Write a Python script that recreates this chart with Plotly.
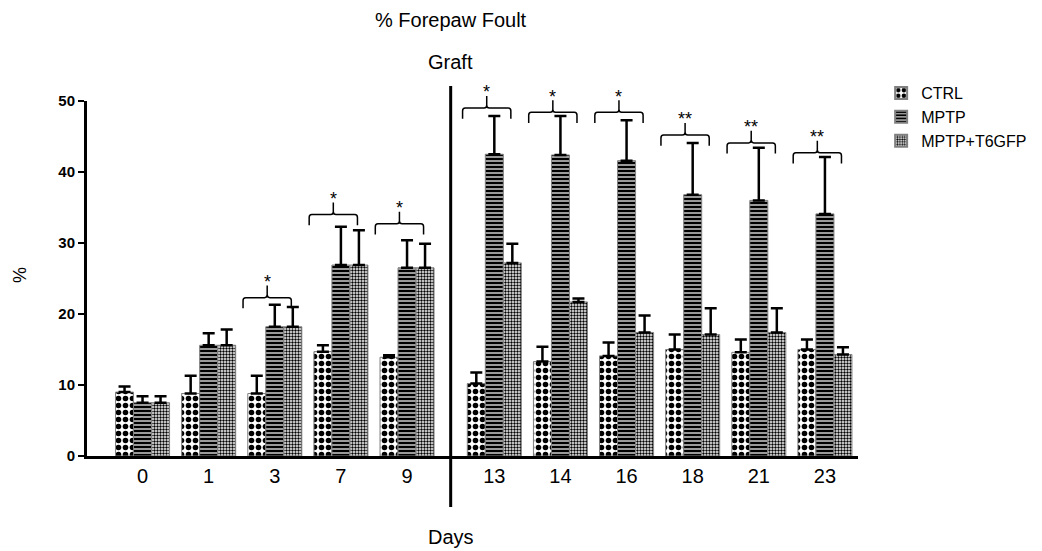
import plotly.graph_objects as go

days = ["0", "1", "3", "7", "9", "13", "14", "16", "18", "21", "23"]
ctrl = [9.0, 8.8, 8.8, 14.7, 13.9, 10.2, 13.3, 14.1, 15.0, 14.6, 15.0]
ctrl_err = [0.8, 2.5, 2.5, 0.9, 0.3, 1.55, 2.1, 1.9, 2.1, 1.8, 1.4]
mptp = [7.5, 15.6, 18.2, 26.9, 26.5, 42.5, 42.4, 41.6, 36.8, 36.0, 34.1]
mptp_err = [0.9, 1.7, 3.1, 5.4, 3.9, 5.4, 5.5, 5.7, 7.3, 7.4, 8.0]
t6 = [7.5, 15.6, 18.2, 26.9, 26.5, 27.2, 21.7, 17.4, 17.1, 17.4, 14.3]
t6_err = [0.9, 2.2, 2.8, 4.9, 3.4, 2.7, 0.5, 2.4, 3.7, 3.4, 1.0]
sig = ["", "", "*", "*", "*", "*", "*", "*", "**", "**", "**"]
bracket_level = [None, None, 22.3, 34.0, 32.7, 49.0, 48.4, 48.4, 45.2, 44.1, 42.7]

FONT = "Liberation Sans, Arial, sans-serif"
GAP_AFTER = 4          # graft happens after the 5th time point
GAP = 0.32
xpos = [i + (GAP if i > GAP_AFTER else 0) for i in range(len(days))]
graft_x = (xpos[GAP_AFTER] + xpos[GAP_AFTER + 1]) / 2

YMAX = 50
L, R, T, B = 87, 184, 101, 95
W, H = 1042, 551
pw, ph = W - L - R, H - T - B


def px_to_paper(px, py):
    return (px - L) / pw, (H - B - py) / ph


def bar(name, vals, errs, pattern):
    return go.Bar(
        name=name, x=xpos, y=vals,
        marker=dict(color="white", line=dict(color="#808080", width=1), pattern=pattern),
        error_y=dict(type="data", symmetric=False, array=errs, arrayminus=[0] * len(errs),
                     color="black", thickness=2.5, width=6),
    )


fig = go.Figure()
fig.add_trace(bar("CTRL", ctrl, ctrl_err,
                  dict(shape=".", fgcolor="black", bgcolor="white", size=7, solidity=0.5, fillmode="replace")))
fig.add_trace(bar("MPTP", mptp, mptp_err,
                  dict(shape="-", fgcolor="black", bgcolor="white", size=4, solidity=0.7, fillmode="replace")))
fig.add_trace(bar("MPTP+T6GFP", t6, t6_err,
                  dict(shape=".", fgcolor="black", bgcolor="white", size=3, solidity=0.5, fillmode="replace")))

shapes = []
annotations = []
# graft divider
shapes.append(dict(type="line", xref="x", yref="paper", x0=graft_x, x1=graft_x, y0=-0.144, y1=1.042,
                   line=dict(color="black", width=3)))

# significance brackets
for i, (lv, s) in enumerate(zip(bracket_level, sig)):
    if lv is None:
        continue
    c = xpos[i]
    xl, xr = c - 0.48, c + 0.25
    xm = (xl + xr) / 2
    yp = lv / YMAX
    drop = 1.5 / YMAX
    peak = 1.7 / YMAX
    r = 0.04
    rr = 0.4 / YMAX
    path = (f"M {xl},{yp - drop} L {xl},{yp - rr} Q {xl},{yp} {xl + r},{yp} "
            f"L {xm - r},{yp} Q {xm},{yp} {xm},{yp + rr} L {xm},{yp + peak} "
            f"M {xm},{yp + rr} Q {xm},{yp} {xm + r},{yp} L {xr - r},{yp} "
            f"Q {xr},{yp} {xr},{yp - rr} L {xr},{yp - drop}")
    shapes.append(dict(type="path", xref="x", yref="paper", path=path,
                       line=dict(color="black", width=1.5)))
    annotations.append(dict(x=xm, y=yp + 2.2 / YMAX, xref="x", yref="paper", text=s, showarrow=False,
                            font=dict(family=FONT, size=18, color="black"),
                            xanchor="center", yanchor="middle"))

tx, ty = px_to_paper(451, 20)
_, gy = px_to_paper(0, 62)
_, dy = px_to_paper(0, 537)
px_, py_ = px_to_paper(20, 275)
annotations += [
    dict(x=tx, y=ty, xref="paper", yref="paper", text="% Forepaw Foult", showarrow=False,
         xanchor="center", yanchor="middle", font=dict(family=FONT, size=20, color="black")),
    dict(x=graft_x, y=gy, xref="x", yref="paper", text="Graft", showarrow=False,
         xanchor="center", yanchor="middle", font=dict(family=FONT, size=20, color="black")),
    dict(x=graft_x, y=dy, xref="x", yref="paper", text="Days", showarrow=False,
         xanchor="center", yanchor="middle", font=dict(family=FONT, size=20, color="black")),
    dict(x=px_, y=py_, xref="paper", yref="paper", text="%", showarrow=False, textangle=-90,
         xanchor="center", yanchor="middle", font=dict(family=FONT, size=18, color="black")),
]

fig.update_layout(
    width=W, height=H,
    margin=dict(l=L, r=R, t=T, b=B, autoexpand=False),
    paper_bgcolor="white", plot_bgcolor="white",
    barmode="group", bargap=0.183, bargroupgap=0,
    showlegend=True,
    legend=dict(x=1.03, y=1.07, xanchor="left", yanchor="top",
                font=dict(family=FONT, size=16, color="black"),
                bgcolor="rgba(0,0,0,0)", tracegroupgap=0, itemsizing="constant"),
    font=dict(family=FONT, color="black"),
    shapes=shapes, annotations=annotations,
    xaxis=dict(range=[-0.84, 10.82], tickmode="array", tickvals=xpos, ticktext=days,
               showline=True, linecolor="black", linewidth=3, ticks="", showgrid=False,
               zeroline=False, tickfont=dict(family=FONT, size=20, color="black")),
    yaxis=dict(range=[0, YMAX], tickvals=[0, 10, 20, 30, 40, 50], showline=True,
               linecolor="black", linewidth=3, ticks="outside", ticklen=6, tickwidth=2,
               tickcolor="black", showgrid=False, zeroline=False,
               tickfont=dict(family=FONT, size=15, color="black", weight="bold")),
)

fig.write_html("out.html")
